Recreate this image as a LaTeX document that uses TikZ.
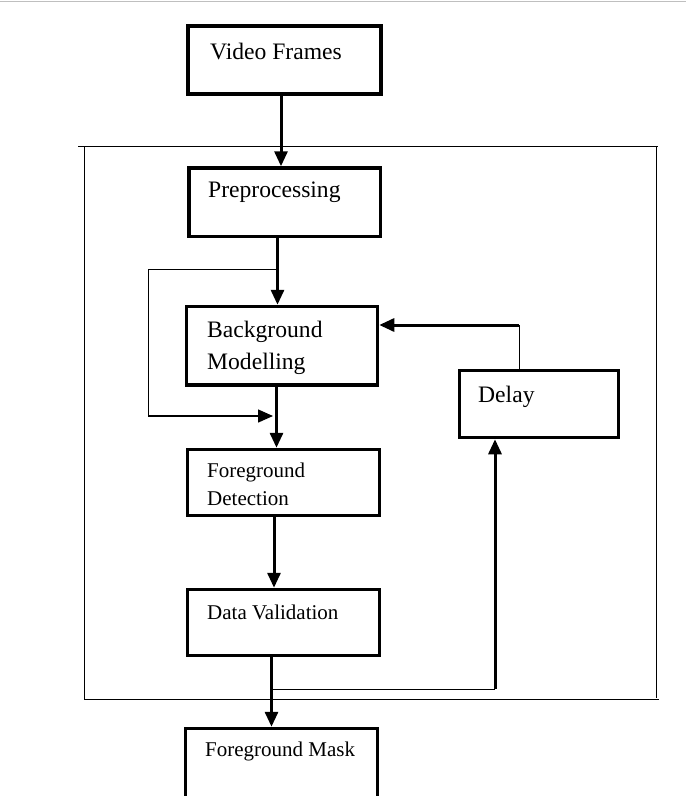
\documentclass[tikz,border=0pt]{standalone}
\usepackage{fontspec}
\setmainfont{Liberation Serif}
\usetikzlibrary{arrows.meta}
\tikzset{
  box/.style={draw, line width=3.5pt, inner sep=0pt},
  arr/.style={line width=3pt, -{Triangle[length=15pt,width=13pt]}},
  arrthin/.style={line width=1.5pt, -{Triangle[length=15pt,width=13pt]}},
  thinline/.style={line width=1pt},
  big/.style={anchor=base west, inner sep=0pt, font=\fontsize{23.6}{28}\selectfont},
  small/.style={anchor=base west, inner sep=0pt, font=\fontsize{21}{25}\selectfont},
}
\begin{document}
\begin{tikzpicture}[x=1pt,y=-1pt]
\path[use as bounding box, clip] (0,0) rectangle (686,796);
\fill[white] (0,0) rectangle (686,796);
\draw[line width=1pt, black!25] (0,1.5) -- (686,1.5);
% outer frame
\draw[thinline] (78,146) -- (658,146);
\draw[thinline] (84,146) -- (84,699);
\draw[thinline] (656,146) -- (656,698);
\draw[thinline] (84,699) -- (659,699);
% boxes
\node[box, minimum width=193pt, minimum height=68pt] (vf) at (284.5,60) {};
\node[box, minimum width=191.5pt, minimum height=68.5pt] (pre) at (284.75,202.25) {};
\node[box, minimum width=191pt, minimum height=78.5pt] (bm) at (282,345.75) {};
\node[box, minimum width=159pt, minimum height=67pt] (dl) at (539,404) {};
\node[box, minimum width=192pt, minimum height=66pt] (fd) at (283.5,482.5) {};
\node[box, minimum width=192pt, minimum height=66pt] (dv) at (283.5,622.5) {};
\node[box, minimum width=192pt, minimum height=101.5pt] (fm) at (281.5,779.25) {};
% texts
\node[big] (tvf) at (210,59) {Video Frames};
\node[big] (tpre) at (208,197) {Preprocessing};
\node[big] (tbm1) at (207,337) {Background};
\node[big] (tbm2) at (207,369) {Modelling};
\node[big] (tdl) at (478,402) {Delay};
\node[small] (tfd1) at (207,477) {Foreground};
\node[small] (tfd2) at (207,505) {Detection};
\node[small] (tdv) at (207,619) {Data Validation};
\node[small] (tfm) at (205,756) {Foreground Mask};
% helper coordinates
\coordinate (a1) at (281,0);
\coordinate (a2) at (277.5,0);
\coordinate (a3) at (276.5,0);
\coordinate (a4) at (274,0);
\coordinate (a5) at (271.5,0);
\coordinate (j1) at (277.5,269);
\coordinate (c1) at (148,269);
\coordinate (c2) at (148,416);
\coordinate (t1) at (273,416);
\coordinate (j2) at (271.5,689);
\coordinate (c3) at (495,689);
\coordinate (c4) at (519,325);
% main arrows
\draw[arr] (a1 |- vf.south) -- (a1 |- pre.north);
\draw[arr] (a2 |- pre.south) -- (a2 |- bm.north);
\draw[arr] (a3 |- bm.south) -- (a3 |- fd.north);
\draw[arr] (a4 |- fd.south) -- (a4 |- dv.north);
\draw[arr] (a5 |- dv.south) -- (a5 |- fm.north);
% bypass
\draw[thinline] (j1) -- (c1) -- (c2);
\draw[arrthin] (c2) -- (t1);
% feedback through delay
\draw[thinline] (j2) -- (c3);
\draw[arr] (c3) -- (c3 |- dl.south);
\draw[thinline] (c4 |- dl.north) -- (c4);
\draw[arr] (c4) -- (c4 -| bm.east);
\end{tikzpicture}
\end{document}
